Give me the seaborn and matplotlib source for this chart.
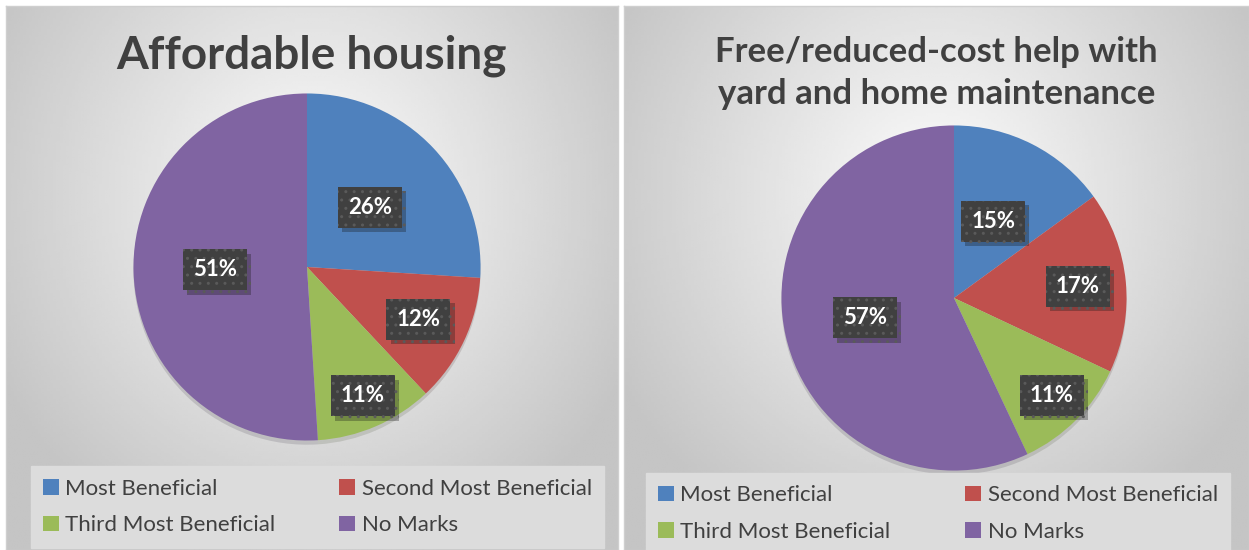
import numpy as np
import seaborn as sns
import matplotlib.pyplot as plt
import matplotlib.patheffects as pe

# data
categories = ["Most Beneficial", "Second Most Beneficial",
              "Third Most Beneficial", "No Marks"]
housing_pct = [26, 12, 11, 51]
yard_pct = [15, 17, 11, 57]
titles = ["Affordable housing",
          "Free/reduced-cost help with\nyard and home maintenance"]
PALETTE = ["#4F81BD", "#C0504D", "#9BBB59", "#8064A2"]

sns.set_theme(style="white")
plt.rcParams["font.family"] = ["Lato", "DejaVu Sans"]
TEXT = "#404040"

W, H = 1249, 550
fig = plt.figure(figsize=(W / 100, H / 100), dpi=100)
fig.patch.set_facecolor("white")


def fx(px):
    return px / W


def fy(py):
    return 1 - py / H


def panel(x0, x1, values, title, center, radius, label_r, legend_box,
          title_y, title_size):
    #####################################################################
    # Background with radial gradient
    #####################################################################
    bg = fig.add_axes([fx(x0), 0, fx(x1 - x0), fy(6)])
    yy, xx = np.mgrid[0:1:200j, 0:1:200j]
    d = np.sqrt(((xx - 0.5) / 0.75) ** 2 + ((yy - 0.35) / 0.9) ** 2)
    img = np.clip(0.99 - 0.28 * d, 0.77, 0.99)
    bg.imshow(img, cmap="gray", vmin=0, vmax=1, extent=[0, 1, 0, 1],
              origin="upper", aspect="auto")
    bg.set_xlim(0, 1)
    bg.set_ylim(0, 1)
    bg.set_xticks([])
    bg.set_yticks([])
    for s in bg.spines.values():
        s.set_color("#cfcfcf")
        s.set_linewidth(1)

    fig.text(fx((x0 + x1) / 2), fy(title_y), title, ha="center", va="center",
             fontsize=title_size, fontweight="bold", color=TEXT,
             linespacing=1.35)

    #####################################################################
    # Pie
    #####################################################################
    cx, cy = center
    ax = fig.add_axes([fx(cx - radius), fy(cy + radius),
                       fx(2 * radius), 2 * radius / H])
    wedges, _ = ax.pie(values, colors=PALETTE, startangle=90,
                       counterclock=False, radius=1,
                       wedgeprops=dict(linewidth=0))
    for w in wedges:
        w.set_path_effects([pe.SimplePatchShadow(offset=(0, -3), alpha=0.15),
                            pe.Normal()])
    ax.set_xlim(-1.02, 1.02)
    ax.set_ylim(-1.02, 1.02)
    ax.axis("off")

    for w, v, r in zip(wedges, values, label_r):
        ang = np.deg2rad((w.theta1 + w.theta2) / 2)
        t = ax.text(r * np.cos(ang), r * np.sin(ang), f"{v}%",
                    ha="center", va="center", color="white",
                    fontsize=16, fontweight="bold",
                    bbox=dict(boxstyle="square,pad=0.45", facecolor="#404040",
                              edgecolor="#5a5a5a", hatch="..", linewidth=0))
        t.get_bbox_patch().set_path_effects(
            [pe.SimplePatchShadow(offset=(3, -3), alpha=0.3), pe.Normal()])

    #####################################################################
    # Legend (row-wise order: 1st, 2nd / 3rd, 4th)
    #####################################################################
    order = [0, 2, 1, 3]
    lx0, ly0, lx1, ly1 = legend_box
    leg = fig.legend([wedges[i] for i in order],
                     [categories[i] for i in order], ncol=2, mode="expand",
                     bbox_to_anchor=(fx(lx0), fy(ly1), fx(lx1 - lx0),
                                     (ly1 - ly0) / H),
                     loc="center", frameon=True, fancybox=False,
                     facecolor="#dcdcdc", edgecolor="#dcdcdc", framealpha=1,
                     fontsize=16, labelcolor=TEXT, handlelength=0.7,
                     handleheight=0.7, handletextpad=0.3,
                     labelspacing=0.75, borderpad=0.55, borderaxespad=0)
    for h in leg.legend_handles:
        h.set_path_effects([])
        h.set_edgecolor("none")


panel(6, 618, housing_pct, titles[0], (307, 267), 177,
      [0.5, 0.71, 0.81, 0.53], (31, 468, 604, 546), 56, 33)
panel(624, 1249, yard_pct, titles[1], (954, 298), 176,
      [0.5, 0.72, 0.8, 0.53], (646, 477, 1230, 550), 73, 25)

plt.savefig("out.png", dpi=100)
plt.close()
